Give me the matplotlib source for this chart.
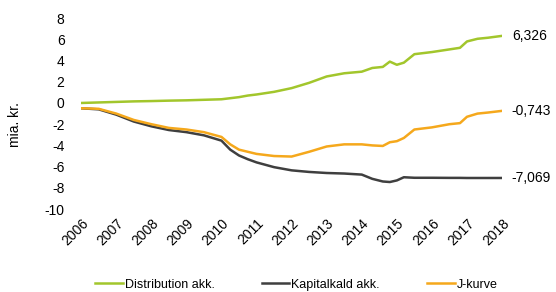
import matplotlib
matplotlib.use('Agg')
from matplotlib import pyplot as plt
import numpy as np

years = [2006.0, 2006.5, 2007.0, 2007.5, 2008.0, 2008.5, 2009.0, 2009.5, 2010.0, 2010.25,
         2010.5, 2010.75, 2011.0, 2011.5, 2012.0, 2012.5, 2013.0, 2013.5, 2014.0, 2014.3,
         2014.6, 2014.8, 2015.0, 2015.2, 2015.5, 2016.0, 2016.5, 2016.8, 2017.0, 2017.3,
         2017.6, 2018.0]
distribution = [0.0, 0.05, 0.1, 0.15, 0.18, 0.22, 0.25, 0.3, 0.35, 0.45,
                0.55, 0.7, 0.8, 1.05, 1.4, 1.9, 2.5, 2.8, 2.95, 3.3,
                3.4, 3.9, 3.6, 3.8, 4.6, 4.8, 5.05, 5.2, 5.8, 6.05,
                6.15, 6.326]
kapitalkald = [-0.5, -0.6, -1.1, -1.75, -2.2, -2.55, -2.75, -3.05, -3.55, -4.4,
               -4.95, -5.3, -5.6, -6.05, -6.35, -6.5, -6.6, -6.65, -6.75, -7.15,
               -7.4, -7.45, -7.3, -7.0, -7.05, -7.05, -7.06, -7.06, -7.07, -7.07,
               -7.07, -7.069]
jkurve = [-0.5, -0.55, -1.0, -1.6, -2.0, -2.35, -2.5, -2.75, -3.2, -3.9,
          -4.4, -4.6, -4.8, -5.0, -5.05, -4.6, -4.1, -3.9, -3.9, -4.0,
          -4.05, -3.7, -3.6, -3.3, -2.5, -2.3, -2.0, -1.9, -1.3, -1.0,
          -0.9, -0.743]
end_labels = ['6,326', '-7,069', '-0,743']
year_ticks = list(range(2006, 2019))
y_ticks = list(range(-10, 9, 2))

plt.rcParams['font.family'] = ['Liberation Sans', 'DejaVu Sans']

fig = plt.figure(figsize=(5.56, 2.92), dpi=100)
ax = fig.add_axes([0.146, 0.284, 0.757, 0.654])

c_green = '#a2c62c'
c_dark = '#3f3f3f'
c_orange = '#f5a81c'

ax.plot(years, distribution, color=c_green, lw=1.8, label='Distribution akk.')
ax.plot(years, kapitalkald, color=c_dark, lw=1.8, label='Kapitalkald akk.')
ax.plot(years, jkurve, color=c_orange, lw=1.8, label='J-kurve')

for series, txt in zip([distribution, kapitalkald, jkurve], end_labels):
    ax.annotate(txt, (years[-1], series[-1]), xytext=(7, 0), textcoords='offset points',
                va='center', ha='left', fontsize=10)

ax.set_xlim(2006, 2018)
ax.set_ylim(-10, 8)
ax.set_xticks(year_ticks)
ax.set_xticklabels([str(y) for y in year_ticks], rotation=45, ha='right',
                   rotation_mode='anchor', fontsize=10)
ax.set_yticks(y_ticks)
ax.set_yticklabels([str(v) for v in y_ticks], fontsize=10)
ax.tick_params(axis='y', length=0, pad=12)
ax.tick_params(axis='x', length=0, pad=5)
for s in ax.spines.values():
    s.set_visible(False)
ax.set_ylabel('mia. kr.', fontsize=10)
ax.yaxis.set_label_coords(-0.14, 0.44)

fig.legend(loc='center', bbox_to_anchor=(0.533, 0.025), ncol=3, frameon=False,
           fontsize=9, handlelength=2.2, handletextpad=0.15, columnspacing=3.8)

fig.savefig('out.png', dpi=100)
